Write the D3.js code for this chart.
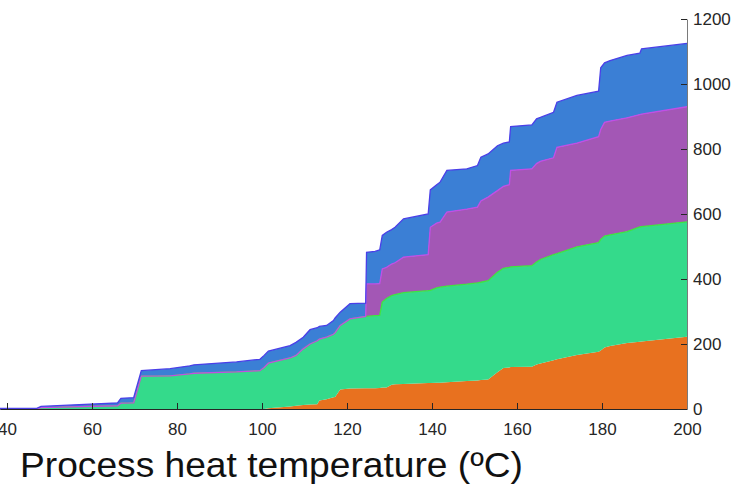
<!DOCTYPE html>
<meta charset="utf-8">
<style>
  body { margin: 0; background: #fff; font-family: "Liberation Sans", Arial, Helvetica, sans-serif; }
  svg { display: block; }
</style>
<svg width="746" height="487"></svg>
<script src="https://d3js.org/d3.v7.min.js"></script>
<script>
  // ---------------------------------------------------------------------------
  // data
  // ---------------------------------------------------------------------------
  const temps = [38, 47, 48, 66, 66.8, 69.8, 71.6, 78.4, 83, 84, 94, 99.5, 100.5, 101.5,
    106.6, 108, 109.7, 111.3, 113, 113.5, 115.2, 116.8, 117.2, 118.4, 120.7, 124.4,
    124.6, 126.6, 127.7, 128.3, 129.3, 130.5, 131.3, 133.3, 139.1, 139.6, 141.1, 141.9,
    143.5, 148.2, 150.7, 151.5, 153.2, 155.4, 156.8, 158.2, 158.5, 163.5, 164.6, 165.5,
    168.6, 169.4, 174.1, 179.2, 179.7, 180.6, 181.9, 185.9, 188.9, 189.3, 200];

  const orange = [0, 0, 0, 0, 0, 0, 0, 0, 0, 0, 0, 0, 0, 2,
    8, 10, 12, 14, 15, 26, 30, 36, 37, 60, 63, 64,
    64, 64, 65, 66, 66, 75, 76, 77, 80, 80, 81, 81,
    82, 86, 88, 89, 91, 113, 126, 128, 129, 130, 137, 140,
    150, 153, 166, 176, 180, 189, 194, 203, 207, 208, 222];

  const green = [0, 0, 4, 10, 18, 19, 101, 102, 108, 110, 114, 118, 128, 139,
    149, 155, 173, 186, 195, 189, 191, 194, 198, 197, 214, 221,
    221, 223, 223, 263, 274, 274, 276, 281, 284, 285, 292, 294,
    296, 298, 300, 301, 304, 308, 307, 308, 308, 311, 315, 320,
    325, 325, 333, 336, 342, 343, 342, 343, 353, 353, 354];

  const purple = [0, 0, 0, 0, 0, 0, 0, 0, 0, 0, 0, 0, 0, 0,
    0, 0, 0, 0, 0, 0, 0, 0, 0, 0, 0, 0,
    100, 98, 98, 102, 96, 97, 98, 109, 111, 194, 199, 200,
    228, 231, 233, 250, 257, 251, 252, 254, 297, 298, 303, 302,
    298, 327, 319, 326, 338, 350, 350, 350, 346, 346, 354];

  const blue = [1.5, 2, 4, 9, 15, 16, 17, 22, 25, 26, 31, 35, 37, 37,
    38, 40, 36, 44, 40, 39, 36, 42, 45, 41, 47, 41,
    97, 100, 104, 103, 108, 106, 109, 118, 125, 115, 118, 123,
    128, 124, 128, 135, 133, 138, 133, 132, 135, 135, 138, 135,
    140, 139, 147, 140, 190, 183, 186, 192, 189, 201, 195];

  const seriesNames = ["orange", "green", "purple", "blue"];
  const fills  = {orange: "#e8711f", green: "#34da8b", purple: "#a357b5", blue: "#3b7fd5"};
  const edges  = {orange: "#e8711f", green: "#3fe33f", purple: "#c24ee6", blue: "#4a3fe8"};

  const xTicks = [40, 60, 80, 100, 120, 140, 160, 180, 200];
  const yTicks = [0, 200, 400, 600, 800, 1000, 1200];

  // ---------------------------------------------------------------------------
  // setup
  // ---------------------------------------------------------------------------
  const svg = d3.select("svg");
  const rows = temps.map((t, i) => ({
    t: t, orange: orange[i], green: green[i], purple: purple[i], blue: blue[i]
  }));

  const x = d3.scaleLinear().domain([38.35, 200]).range([0, 687]);
  const y = d3.scaleLinear().domain([0, 1200]).range([409, 19]);

  const stacked = d3.stack().keys(seriesNames)(rows);

  const area = d3.area()
    .x(d => x(d.data.t))
    .y0(d => y(d[0]))
    .y1(d => y(d[1]));

  const topLine = d3.line()
    .x(d => x(d.data.t))
    .y(d => y(d[1]));

  // layers
  svg.append("g").selectAll("path")
    .data(stacked).enter().append("path")
      .attr("fill", d => fills[d.key])
      .attr("d", area);

  svg.append("g").selectAll("path")
    .data(stacked.filter(d => d.key !== "orange")).enter().append("path")
      .attr("fill", "none")
      .attr("stroke", d => edges[d.key])
      .attr("stroke-width", 1.3)
      .attr("d", topLine);

  // ---------------------------------------------------------------------------
  // axes
  // ---------------------------------------------------------------------------
  const xAxis = svg.append("g")
    .attr("transform", "translate(0,409)")
    .call(d3.axisBottom(x).tickValues(xTicks).tickSize(-6).tickSizeOuter(0).tickPadding(14));
  xAxis.select(".domain").attr("stroke", "#262626");
  xAxis.selectAll(".tick line").attr("stroke", "#262626");
  xAxis.selectAll("text")
    .attr("fill", "#262626")
    .style("font-size", "17px")
    .style("font-family", "'Liberation Sans', Arial, sans-serif");

  const yAxis = svg.append("g")
    .attr("transform", "translate(687,0)")
    .call(d3.axisRight(y).tickValues(yTicks).tickFormat(d3.format("d"))
      .tickSize(-6).tickSizeOuter(0).tickPadding(6));
  yAxis.select(".domain").attr("stroke", "#7a7a7a");
  yAxis.selectAll(".tick line").attr("stroke", "#262626");
  yAxis.selectAll("text")
    .attr("fill", "#262626")
    .style("font-size", "17px")
    .style("font-family", "'Liberation Sans', Arial, sans-serif");

  svg.append("text")
    .attr("x", 20)
    .attr("y", 477)
    .attr("fill", "#111")
    .attr("textLength", 503)
    .attr("lengthAdjust", "spacingAndGlyphs")
    .style("font-size", "35px")
    .style("font-family", "'Liberation Sans', Arial, sans-serif")
    .text("Process heat temperature (ºC)");
</script>
